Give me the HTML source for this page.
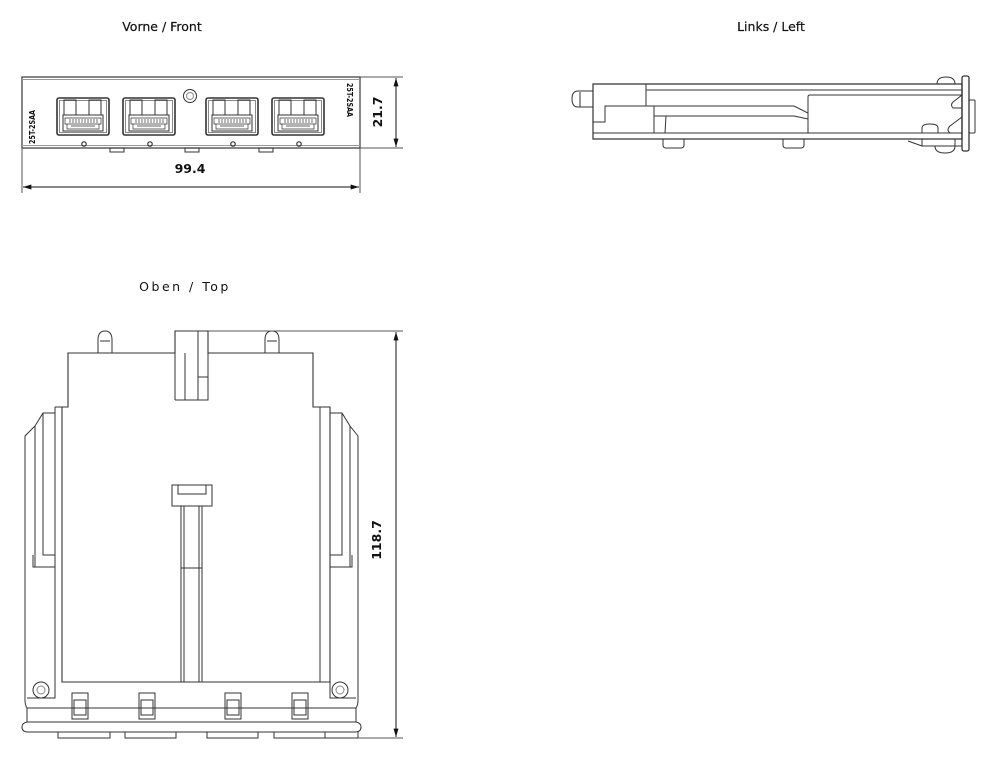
<!DOCTYPE html>
<html><head><meta charset="utf-8"><style>
html,body{margin:0;padding:0;background:#fff;}
svg{display:block}
text{font-family:"DejaVu Sans","Liberation Sans",sans-serif;fill:#111}
</style></head><body>
<svg width="1000" height="757" viewBox="0 0 1000 757" xmlns="http://www.w3.org/2000/svg">
<defs>
<marker id="a" viewBox="0 0 10 6" refX="10" refY="3" markerWidth="12" markerHeight="5" orient="auto-start-reverse" markerUnits="userSpaceOnUse"><path d="M0,0 L10,3 L0,6 z" fill="#111"/></marker>
</defs>
<text x="162" y="31" font-size="12.5" font-weight="500" text-anchor="middle" stroke="#111" stroke-width="0.2">Vorne / Front</text>
<text x="771" y="31" font-size="12.5" text-anchor="middle" stroke="#111" stroke-width="0.2">Links / Left</text>
<text x="185" y="291" font-size="12.5" text-anchor="middle" letter-spacing="2.5">Oben / Top</text>

<g fill="none" stroke="#333" stroke-width="1">
<!-- FRONT -->
<rect x="22" y="77" width="338" height="71" stroke="#444" stroke-width="1.3"/>
<line x1="22" y1="79.5" x2="360" y2="79.5" stroke="#999"/>
<line x1="22" y1="145.5" x2="360" y2="145.5" stroke="#999"/>
<g id="port">
<rect x="57" y="98" width="52" height="37" rx="2" stroke-width="1.6"/>
<rect x="59.5" y="100.5" width="47" height="32" stroke="#888"/>
<rect x="64" y="100" width="12" height="15"/>
<rect x="89" y="100" width="12" height="15"/>
<rect x="63" y="115" width="40" height="16"/>
<path d="M65 118 h36 v6 h-36 z M67 124 v5 h32 v-5 M70 119 v4 M73 119 v4 M76 119 v4 M79 119 v4 M82 119 v4 M85 119 v4 M88 119 v4 M91 119 v4 M94 119 v4 M97 119 v4 M71 126 h24" stroke-width="0.7"/>
<circle cx="84" cy="144" r="2.2" stroke-width="1.2"/>
</g>
<use href="#port" x="66"/>
<use href="#port" x="149"/>
<use href="#port" x="215"/>
<circle cx="190" cy="96" r="6.5"/>
<circle cx="190" cy="96" r="3.5" stroke="#888"/>
<rect x="110" y="148" width="14" height="4"/>
<rect x="185" y="148" width="14" height="4"/>
<rect x="259" y="148" width="14" height="4"/>
<line x1="360" y1="77" x2="403" y2="77" stroke="#555"/>
<line x1="360" y1="148" x2="403" y2="148" stroke="#555"/>
<line x1="396" y1="78" x2="396" y2="147" stroke="#111" marker-start="url(#a)" marker-end="url(#a)"/>
<line x1="22" y1="148" x2="22" y2="193" stroke="#555"/>
<line x1="360" y1="148" x2="360" y2="193" stroke="#555"/>
<line x1="23" y1="187" x2="359" y2="187" stroke="#111" marker-start="url(#a)" marker-end="url(#a)"/>

<!-- LEFT -->
<path d="M593 84 H962 V139 H593 Z" stroke-width="1.2"/>
<line x1="646" y1="90" x2="962" y2="90"/>
<line x1="593" y1="133" x2="962" y2="133"/>
<path d="M646 84 V106 H605 V122 H593"/>
<path d="M605 106 H654 V133"/>
<path d="M654 106 H794 L808 113 V119 L794 116 H654"/>
<path d="M666 116 L665 133"/>
<path d="M808 133 V97 Q808 95 810 95 H962"/>
<path d="M962 95 L953 102 Q950 105 953 108 L962 108"/>
<path d="M962 117 L950 126 Q946 130 950 133 H962"/>
<path d="M593 91 H578 Q572 91 572 99 Q572 107 578 107 H593"/>
<path d="M580 92 V107"/>
<path d="M663 139 V145 Q663 148 666 148 H681 Q684 148 684 145 V139"/>
<path d="M783 139 V145 Q783 148 786 148 H801 Q804 148 804 145 V139"/>
<path d="M922 133 V128 Q922 124 930 124 Q938 124 938 128 V133"/>
<path d="M937 84 Q937 77 946 77 Q955 77 955 84"/>
<path d="M955 139 V146 M922 139 V146 H962 M908 141 L922 146"/>
<path d="M935 146 Q935 153 945 153 Q955 153 955 146"/>
<rect x="962" y="76" width="7" height="75" rx="2" stroke-width="1.3"/>
<rect x="969" y="100" width="6" height="33" rx="1"/>

<!-- TOP -->
<path d="M68 407 V353 H175 V331 H208 V353 H313 V407 H330 V682 H62 V407 Z" stroke-width="1.1"/>
<path d="M55 407 H62 M55 407 V682 M330 407 V682 M313 407 H320 V682 M62 407 V682"/>
<line x1="175" y1="353" x2="175" y2="400"/>
<path d="M175 400 H208 V353 M198 331 V377 H208 M198 377 V400 M185 353 V400"/>
<path d="M98 353 V340 Q98 331 105 331 Q112 331 112 340 V353 M100 341 H110"/>
<path d="M265 353 V340 Q265 331 272 331 Q279 331 279 340 V353 M267 341 H277"/>
<path d="M55 413 H43 L35 426 L25 436 V565 M43 413 V555 H55 M35 426 V567 M33 555 V567 H55"/>
<path d="M330 413 H342 L350 426 L358 436 V565 M342 413 V555 H330 M350 426 V567 M352 555 V567 H330"/>
<path d="M25 565 V700 Q25 705 27 708 V722 M358 565 V700 Q358 705 356 708 V722"/>
<path d="M55 682 V698 H27 M330 682 V698 H356 M27 708 H356"/>
<path d="M27 722 Q22 723 22 727 Q22 732 28 732 H355 Q361 732 361 727 Q361 723 356 722 Z"/>
<rect x="172" y="485" width="40" height="21"/>
<rect x="178" y="485" width="28" height="9"/>
<path d="M181 506 V682 M184 506 V682 M199 506 V682 M202 506 V682 M181 568 H202"/>
<circle cx="41" cy="690" r="8"/><circle cx="41" cy="690" r="4" stroke="#888"/>
<circle cx="340" cy="690" r="8"/><circle cx="340" cy="690" r="4" stroke="#888"/>
<g id="sl"><rect x="72" y="693" width="16" height="26"/><rect x="74" y="700" width="12" height="15"/></g>
<use href="#sl" x="67"/><use href="#sl" x="153"/><use href="#sl" x="220"/>
<path d="M58 732 V738 H110 V732 M125 732 V738 H176 V732 M207 732 V738 H258 V732 M274 732 V738 H325 V732 M325 738 H358 V732"/>
<line x1="208" y1="331" x2="403" y2="331" stroke="#555"/>
<line x1="358" y1="738" x2="403" y2="738" stroke="#555"/>
<line x1="396" y1="332" x2="396" y2="737" stroke="#111" marker-start="url(#a)" marker-end="url(#a)"/>
</g>

<text x="190" y="173" font-size="12.5" font-weight="bold" text-anchor="middle">99.4</text>
<text transform="translate(382 112) rotate(-90)" font-size="12.5" font-weight="bold" text-anchor="middle">21.7</text>
<text transform="translate(381 540) rotate(-90)" font-size="12.5" font-weight="bold" text-anchor="middle">118.7</text>
<text transform="translate(35 127) rotate(-90) scale(0.8 1)" font-size="8" font-weight="bold" text-anchor="middle">25T-2SAA</text>
<text transform="translate(347 100) rotate(90) scale(0.8 1)" font-size="8" font-weight="bold" text-anchor="middle">25T-2SAA</text>
</svg>
</body></html>
